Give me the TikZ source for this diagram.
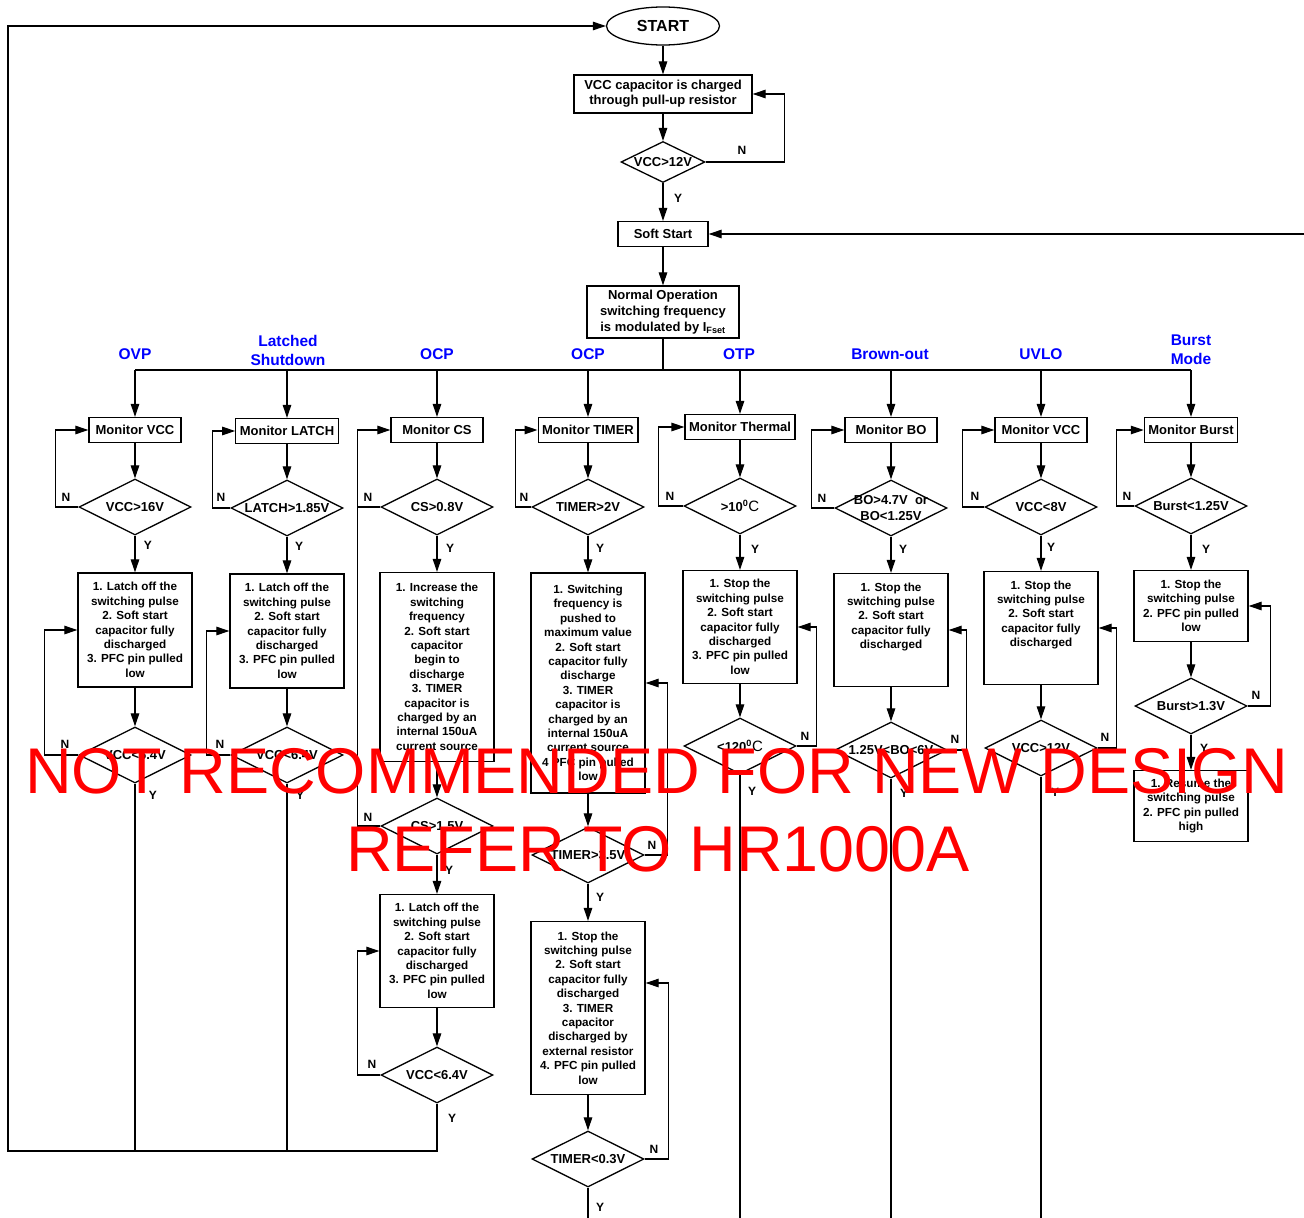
\documentclass[tikz,border=0pt]{standalone}
\usepackage{fontspec}
\setmainfont{Liberation Sans}
\usetikzlibrary{shapes.geometric,arrows.meta}

\begin{document}
\begin{tikzpicture}[x=1pt, y=-1pt, >={Triangle[length=13pt,width=8.5pt]}, line width=1.2pt,
  box/.style={draw, line width=1.3pt, align=center, inner sep=2pt, minimum width=114pt, font=\bfseries\fontsize{11.7}{14.4}\selectfont},
  mon/.style={draw, line width=1.3pt, inner xsep=4pt, minimum width=92pt, minimum height=25pt, font=\bfseries\fontsize{13}{15}\selectfont},
  dec/.style={draw, diamond, aspect=2, inner sep=0pt, line width=1.3pt, minimum width=112pt, minimum height=56pt, font=\bfseries\fontsize{13}{15}\selectfont},
  ttl/.style={text=blue, align=center, font=\bfseries\fontsize{15.5}{19}\selectfont},
  yn/.style={font=\bfseries\fontsize{12}{14}\selectfont},
  wm/.style={text=red, anchor=base, font=\fontsize{64.6}{76}\selectfont}]
\useasboundingbox (0,0) rectangle (1304,1218);
\fill[white] (0,0) rectangle (1304,1218);
\coordinate (bus) at (663,370);
\coordinate (ret) at (8,1151);
\coordinate (bot) at (0,1218);
\coordinate (redge) at (1304,234);
% Start up
\node[draw, ellipse, line width=1.3pt, minimum width=113pt, minimum height=38pt, font=\bfseries\fontsize{16}{18}\selectfont] (start) at (663,26) {START};
\node[box, align=center, minimum width=178pt, minimum height=38pt, font=\bfseries\fontsize{13}{15}\selectfont] (chg) at (663,94) {VCC capacitor is charged\\through pull-up resistor};
\node[dec, minimum width=84pt, minimum height=41pt] (vcc12) at (663,162) {VCC>12V};
\node[mon, minimum width=90pt] (soft) at (663,234) {Soft Start};
\node[box, minimum width=152pt, minimum height=52pt, font=\bfseries\fontsize{13}{16}\selectfont] (normop) at (663,312) {Normal Operation\\switching frequency\\is modulated by I\textsubscript{Fset}};
\draw[->] (start) -- (chg);
\draw[->] (chg) -- (vcc12);
\draw[->] (vcc12.east) -- ++(79,0) |- (chg.east);
\draw[->] (vcc12) -- (soft);
\draw[->] (redge) -- (soft.east);
\draw[->] (soft) -- (normop);
\draw (normop) -- (bus);
% Branch titles
\node[ttl] (lovp) at (135,354) {OVP};
\node[ttl] (llat) at (288,350) {Latched\\Shutdown};
\node[ttl] (locpa) at (437,354) {OCP};
\node[ttl] (locpb) at (588,354) {OCP};
\node[ttl] (lotp) at (739,354) {OTP};
\node[ttl] (lbo) at (890,354) {Brown-out};
\node[ttl] (luvlo) at (1041,354) {UVLO};
\node[ttl] (lburst) at (1191,350) {Burst\\Mode};
% OVP
\node[mon] (ovpm) at (135,430) {Monitor VCC};
\node[dec] (ovpd) at (135,507) {VCC>16V};
\node[box, minimum height=114pt] (ovpp) at (135,630) {1. Latch off the\\switching pulse\\2. Soft start\\capacitor fully\\discharged\\3. PFC pin pulled\\low};
\node[dec] (ovpv) at (135,755) {VCC<6.4V};
% Latched shutdown
\node[mon] (latm) at (287,431) {Monitor LATCH};
\node[dec] (latd) at (287,508) {LATCH>1.85V};
\node[box, minimum height=114pt] (latp) at (287,631) {1. Latch off the\\switching pulse\\2. Soft start\\capacitor fully\\discharged\\3. PFC pin pulled\\low};
\node[dec] (latv) at (287,755) {VCC<6.4V};
% OCP (CS)
\node[mon] (csm) at (437,430) {Monitor CS};
\node[dec] (csd) at (437,507) {CS>0.8V};
\node[box, minimum height=189pt] (csp) at (437,667) {1. Increase the\\switching\\frequency\\2. Soft start\\capacitor\\begin to\\discharge\\3. TIMER\\capacitor is\\charged by an\\internal 150uA\\current source};
\node[dec] (csd2) at (437,826) {CS>1.5V};
\node[box, minimum height=113pt] (csp2) at (437,951) {1. Latch off the\\switching pulse\\2. Soft start\\capacitor fully\\discharged\\3. PFC pin pulled\\low};
\node[dec] (csv) at (437,1075) {VCC<6.4V};
% OCP (TIMER)
\node[mon] (tmm) at (588,430) {Monitor TIMER};
\node[dec] (tmd) at (588,507) {TIMER>2V};
\node[box, minimum height=220pt] (tmp) at (588,683) {1. Switching\\frequency is\\pushed to\\maximum value\\2. Soft start\\capacitor fully\\discharge\\3. TIMER\\capacitor is\\charged by an\\internal 150uA\\current source\\4 PFC pin pulled\\low};
\node[dec] (tmd2) at (588,855) {TIMER>3.5V};
\node[box, minimum height=173pt] (tmp2) at (588,1008) {1. Stop the\\switching pulse\\2. Soft start\\capacitor fully\\discharged\\3. TIMER\\capacitor\\discharged by\\external resistor\\4. PFC pin pulled\\low};
\node[dec] (tmd3) at (588,1159) {TIMER<0.3V};
% OTP
\node[mon] (otm) at (740,427) {Monitor Thermal};
\node[dec] (otd) at (740,506) {>10\textsuperscript{0}{\mdseries\fontsize{15}{15}\selectfont C}};
\node[box, minimum height=113pt] (otp) at (740,627) {1. Stop the\\switching pulse\\2. Soft start\\capacitor fully\\discharged\\3. PFC pin pulled\\low};
\node[dec] (otd2) at (740,746) {<120\textsuperscript{0}{\mdseries\fontsize{15}{15}\selectfont C}};
% Brown-out
\node[mon] (bom) at (891,430) {Monitor BO};
\node[dec] (bod) at (891,508) {};
\node[font=\bfseries\fontsize{13}{16}\selectfont, align=center] (bodt) at (bod) {BO>4.7V~~or\\BO<1.25V};
\node[box, minimum height=113pt] (bop) at (891,630) {1. Stop the\\switching pulse\\2. Soft start\\capacitor fully\\discharged\\~\\~};
\node[dec] (bod2) at (891,750) {1.25V<BO<6V};
% UVLO
\node[mon] (uvm) at (1041,430) {Monitor VCC};
\node[dec] (uvd) at (1041,507) {VCC<8V};
\node[box, minimum height=113pt] (uvp) at (1041,628) {1. Stop the\\switching pulse\\2. Soft start\\capacitor fully\\discharged\\~\\~};
\node[dec] (uvd2) at (1041,748) {VCC>12V};
% Burst mode
\node[mon] (bum) at (1191,430) {Monitor Burst};
\node[dec] (bud) at (1191,506) {Burst<1.25V};
\node[box, minimum height=71pt] (bup) at (1191,606) {1. Stop the\\switching pulse\\2. PFC pin pulled\\low};
\node[dec] (bud2) at (1191,706) {Burst>1.3V};
\node[box, minimum height=71pt] (bup2) at (1191,806) {1. Resume the\\switching pulse\\2. PFC pin pulled\\high};
% Bus to the branches
\draw (bus -| ovpm) -- (bus -| bum);
\foreach \m in {ovpm,latm,csm,tmm,otm,bom,uvm,bum}
  \draw[->] (bus -| \m) -- (\m);
% Down the columns
\foreach \a/\b in {ovpm/ovpd,ovpd/ovpp,ovpp/ovpv, latm/latd,latd/latp,latp/latv,
  csm/csd,csd/csp,csp/csd2,csd2/csp2,csp2/csv, tmm/tmd,tmd/tmp,tmp/tmd2,tmd2/tmp2,tmp2/tmd3,
  otm/otd,otd/otp,otp/otd2, bom/bod,bod/bop,bop/bod2, uvm/uvd,uvd/uvp,uvp/uvd2,
  bum/bud,bud/bup,bup/bud2,bud2/bup2}
  \draw[->] (\a) -- (\b);
% N loops
\draw[->] (ovpd.west) -- ++(-23,0) |- (ovpm.west);
\draw[->] (ovpv.west) -- ++(-34,0) |- (ovpp.west);
\draw[->] (latd.west) -- ++(-18,0) |- (latm.west);
\draw[->] (latv.west) -- ++(-24,0) |- (latp.west);
\draw (csd.west) -- ++(-23,0);
\draw[->] (csd2.west) -- ++(-23,0) |- (csm.west);
\draw[->] (csv.west) -- ++(-23,0) |- (csp2.west);
\draw[->] (tmd.west) -- ++(-16,0) |- (tmm.west);
\draw[->] (tmd2.east) -- ++(23,0) |- (tmp.east);
\draw[->] (tmd3.east) -- ++(24,0) |- ([yshift=25pt]tmp2.east);
\draw[->] (otd.west) -- ++(-25,0) |- (otm.west);
\draw[->] (otd2.east) -- ++(20,0) |- (otp.east);
\draw[->] (bod.west) -- ++(-23,0) |- (bom.west);
\draw[->] (bod2.east) -- ++(19,0) |- (bop.east);
\draw[->] (uvd.west) -- ++(-22,0) |- (uvm.west);
\draw[->] (uvd2.east) -- ++(19,0) |- (uvp.east);
\draw[->] (bud.west) -- ++(-18,0) |- (bum.west);
\draw[->] (bud2.east) -- ++(23,0) |- (bup.east);
% Y exits
\draw[->] (csv.south) |- (ret) |- (start.west);
\draw (ovpv.south) -- (ovpv.south |- ret);
\draw (latv.south) -- (latv.south |- ret);
\foreach \d in {tmd3,otd2,bod2,uvd2}
  \draw (\d.south) -- (\d.south |- bot);
% Y / N marks
\foreach \t/\p [count=\i] in {N/{742,150}, Y/{678,198},
  N/{66,497}, Y/{148,545}, N/{65,744}, Y/{153,795},
  N/{221,497}, Y/{299,546}, N/{220,744}, Y/{300,795},
  N/{368,497}, Y/{450,548}, N/{368,817}, Y/{449,870}, N/{372,1064}, Y/{452,1118},
  N/{524,497}, Y/{600,548}, N/{652,845}, Y/{600,897}, N/{654,1149}, Y/{600,1207},
  N/{670,496}, Y/{755,549}, N/{805,736}, Y/{752,791},
  N/{822,498}, Y/{903,549}, N/{955,739}, Y/{904,793},
  N/{975,496}, Y/{1051,547}, N/{1105,737}, Y/{1055,792},
  N/{1127,496}, Y/{1206,549}, N/{1256,695}, Y/{1204,748}}
  \node[yn] (yn\i) at (\p) {\t};
% Watermark
\node[wm] (wma) at (657,793) {NOT RECOMMENDED FOR NEW DESIGN};
\node[wm] (wmb) at (658,871) {REFER TO HR1000A};
\end{tikzpicture}
\end{document}
